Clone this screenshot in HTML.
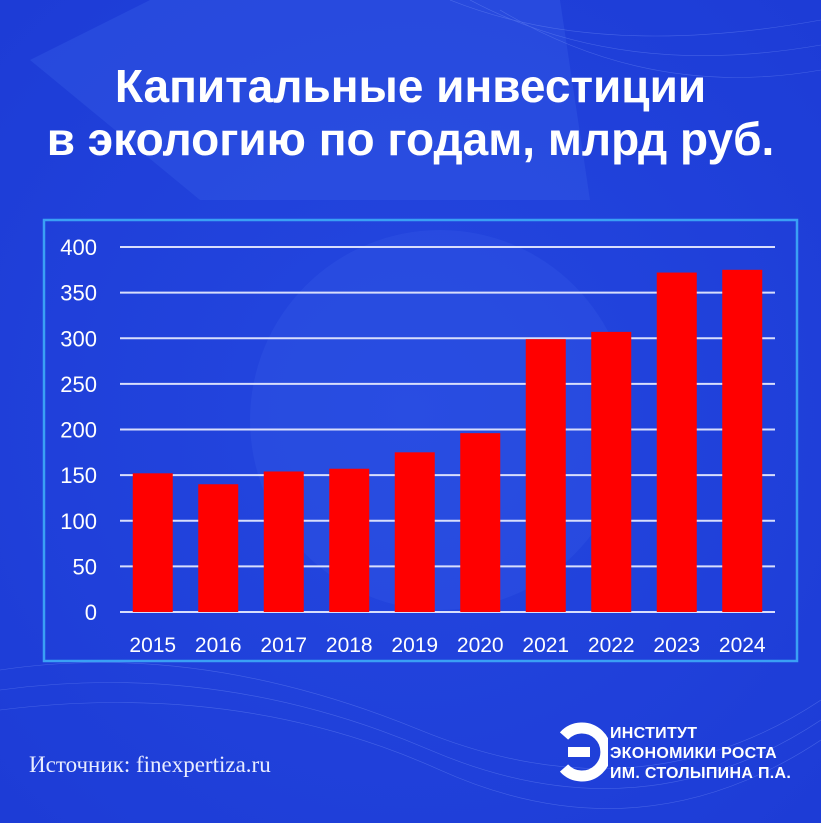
<!DOCTYPE html>
<html><head><meta charset="utf-8"><style>
html,body{margin:0;padding:0}
body{width:821px;height:823px;overflow:hidden;background:#1f3fd9;font-family:"Liberation Sans",sans-serif;position:relative}
.bg{position:absolute;left:0;top:0}
h1{position:absolute;left:0;width:821px;top:60px;margin:0;text-align:center;color:#fff;font-size:46px;line-height:53px;font-weight:bold}
.src{position:absolute;left:29px;top:752px;color:#e8ecff;font-family:"Liberation Serif",serif;font-size:23px}
.logo{position:absolute;left:610px;top:724px;color:#fff;font-size:16px;line-height:20px;font-weight:bold;letter-spacing:0.3px}
</style></head><body>
<svg class="bg" width="821" height="823">
<defs><radialGradient id="g" cx="0.5" cy="0.5" r="0.7"><stop offset="0" stop-color="#2447e0"/><stop offset="1" stop-color="#1d3cd6"/></radialGradient></defs>
<rect width="821" height="823" fill="url(#g)"/>
<path d="M30 60 L150 0 L560 0 L590 200 L200 200 Z" fill="#3358e4" opacity="0.45"/>
<circle cx="440" cy="420" r="190" fill="#3358e4" opacity="0.35"/>
<g stroke="#8aa4ff" stroke-width="0.6" fill="none" opacity="0.35">
<path d="M0 670 Q200 640 420 730 T821 700"/><path d="M0 690 Q220 660 430 750 T821 720"/><path d="M0 710 Q240 680 440 770 T821 740"/>
<path d="M450 0 Q600 60 821 20"/><path d="M470 0 Q620 80 821 45"/><path d="M500 10 Q650 100 821 70"/>
</g>
</svg>
<h1>Капитальные инвестиции<br>в экологию по годам, млрд руб.</h1>
<svg id="chart" style="position:absolute;left:0;top:0" width="821" height="823">
<rect x="44" y="220" width="753" height="441" fill="none" stroke="#3aa0f5" stroke-width="2.5"/>
<g id="grid"></g><g id="bars"></g><g id="labels"></g>
</svg>
<div class="src">Источник: finexpertiza.ru</div>
<svg style="position:absolute;left:558px;top:722px" width="50" height="60">
<path d="M6 14 A24 24 0 1 1 6 46" fill="none" stroke="#fff" stroke-width="11"/>
<rect x="10" y="25" width="22" height="10" fill="#fff"/>
</svg>
<div class="logo">ИНСТИТУТ<br>ЭКОНОМИКИ РОСТА<br>ИМ. СТОЛЫПИНА П.А.</div>
<script>
const categories=["2015","2016","2017","2018","2019","2020","2021","2022","2023","2024"];
const values=[152,140,154,157,175,196,299,307,372,375];
const ticks=[0,50,100,150,200,250,300,350,400];
const NS="http://www.w3.org/2000/svg";
const x0=120,x1=775,y0=612,y1=247,ymax=400;
const band=(x1-x0)/categories.length;
function y(v){return y0-(v/ymax)*(y0-y1);}
function xc(i){return x0+band*(i+0.5);}
function mk(t,a,p){const e=document.createElementNS(NS,t);for(const k in a)e.setAttribute(k,a[k]);document.getElementById(p).appendChild(e);return e;}
ticks.forEach(t=>{
 const l=mk("line",{x1:x0,x2:x1,y1:y(t),y2:y(t),stroke:"#d8defc","stroke-width":2},"grid");
 
 
 const tx=mk("text",{x:97,y:y(t)+8,"text-anchor":"end",fill:"#fff","font-size":22,"font-family":"Liberation Sans, sans-serif"},"labels");
 tx.textContent=t;
 
 
});
categories.forEach((c,i)=>{
 const b=mk("rect",{x:xc(i)-20,y:y(values[i]),width:40,height:y0-y(values[i]),fill:"#ff0000"},"bars");
 
 
 const tx=mk("text",{x:xc(i),y:652,"text-anchor":"middle",fill:"#fff","font-size":21,"font-family":"Liberation Sans, sans-serif"},"labels");
 tx.textContent=c;
 
 
});
</script>
</body></html>
